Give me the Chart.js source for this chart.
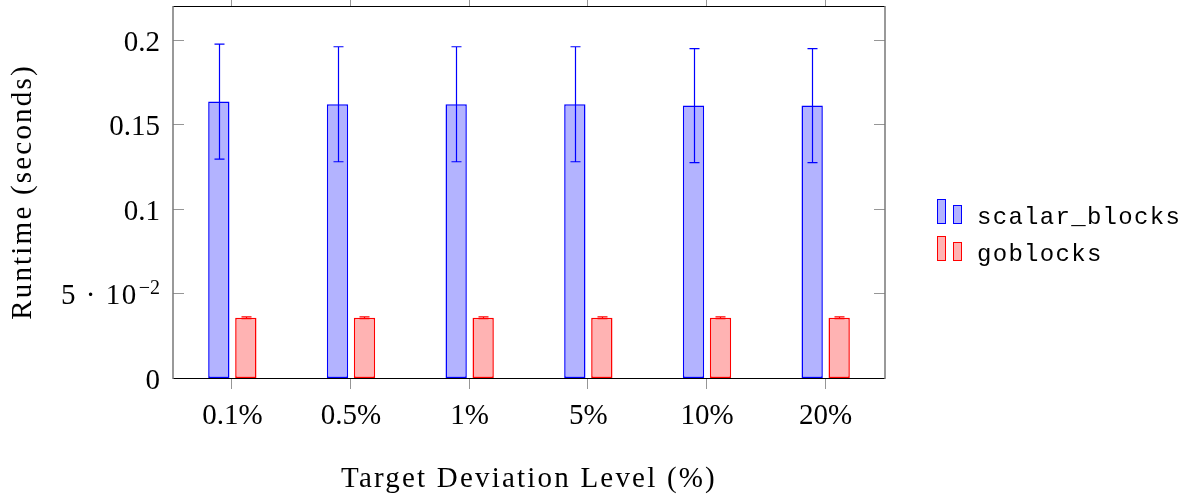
<!DOCTYPE html>
<html>
<head>
<meta charset="utf-8">
<title>Runtime by target deviation level</title>
<script src="https://cdn.jsdelivr.net/npm/chart.js@4/dist/chart.umd.min.js"></script>
<style>
  html, body { margin: 0; padding: 0; background: #ffffff; }
  canvas { display: block; }
</style>
</head>
<body>
<canvas id="chart" width="1191" height="503"></canvas>
<script>
// Mean runtime (seconds) per target deviation level, with ± error
const categories = ['0.1%', '0.5%', '1%', '5%', '10%', '20%'];
const scalarBlocks = [0.1635, 0.1619, 0.1619, 0.1619, 0.1611, 0.1611];
const scalarBlocksErr = [0.034, 0.034, 0.034, 0.034, 0.0337, 0.0337];
const goblocks = [0.0356, 0.0356, 0.0356, 0.0356, 0.0356, 0.0356];
const goblocksErr = [0.0005, 0.0005, 0.0005, 0.0005, 0.0005, 0.0005];
const seriesNames = ['scalar_blocks', 'goblocks'];
const yTickValues = [0, 0.05, 0.1, 0.15, 0.2];
// '^' marks the start of a superscript
const yTickLabels = ['0', '5 \u00b7 10^\u22122', '0.1', '0.15', '0.2'];

const SERIF = '"Liberation Serif", "DejaVu Serif", serif';
const MONO = '"Liberation Mono", "DejaVu Sans Mono", monospace';
const FONT_SIZE = 29;
const TITLE_SPACING = '2.2px';

const BLUE = 'rgb(0,0,255)';
const BLUE_FILL = 'rgb(179,179,255)';
const RED = 'rgb(255,0,0)';
const RED_FILL = 'rgb(255,179,179)';
const AXIS_GRAY = 'rgb(120,120,120)';
const TICK_GRAY = 'rgb(150,150,150)';
const TICK_LEN = 11;

const errors = [scalarBlocksErr, goblocksErr];

// Slightly looser tracking for the axis titles
const titleSpacingPlugin = {
  id: 'titleSpacing',
  beforeDraw(chart) {
    Object.values(chart.scales).forEach(scale => {
      if (scale._spacedTitle) return;
      const orig = scale.drawTitle;
      scale.drawTitle = function () {
        const ctx = this.ctx;
        ctx.save();
        ctx.letterSpacing = TITLE_SPACING;
        orig.call(this);
        ctx.restore();
      };
      scale._spacedTitle = true;
    });
  }
};

// Box frame, inward y ticks on both sides, outward x ticks top and bottom
const framePlugin = {
  id: 'frame',
  beforeDatasetsDraw(chart) {
    const { ctx, chartArea: a, scales: { x, y } } = chart;
    ctx.save();
    ctx.lineWidth = 1;
    ctx.strokeStyle = TICK_GRAY;
    for (const v of yTickValues) {
      const py = Math.round(y.getPixelForValue(v)) + 0.5;
      ctx.beginPath();
      ctx.moveTo(a.left, py); ctx.lineTo(a.left + TICK_LEN, py);
      ctx.moveTo(a.right, py); ctx.lineTo(a.right - TICK_LEN, py);
      ctx.stroke();
    }
    for (let i = 0; i < categories.length; i++) {
      const px = Math.round(x.getPixelForTick(i)) - 0.5;
      ctx.beginPath();
      ctx.moveTo(px, a.bottom); ctx.lineTo(px, a.bottom + TICK_LEN);
      ctx.moveTo(px, a.top); ctx.lineTo(px, a.top - TICK_LEN);
      ctx.stroke();
    }
    ctx.strokeStyle = '#000';
    ctx.lineWidth = 1;
    ctx.beginPath();
    ctx.moveTo(a.left, a.top + 0.5); ctx.lineTo(a.right, a.top + 0.5);
    ctx.moveTo(a.left, a.bottom + 0.5); ctx.lineTo(a.right, a.bottom + 0.5);
    ctx.stroke();
    ctx.strokeStyle = AXIS_GRAY;
    ctx.lineWidth = 1.5;
    ctx.beginPath();
    ctx.moveTo(a.left, a.top); ctx.lineTo(a.left, a.bottom + 1);
    ctx.moveTo(a.right, a.top); ctx.lineTo(a.right, a.bottom + 1);
    ctx.stroke();

    // y tick labels, right aligned, with optional superscript part
    ctx.fillStyle = '#000';
    ctx.textBaseline = 'alphabetic';
    yTickValues.forEach((v, i) => {
      const py = y.getPixelForValue(v) + 10.7;
      const [main, sup] = yTickLabels[i].split('^');
      let right = a.left - 13;
      if (sup) {
        ctx.font = `${Math.round(FONT_SIZE * 0.7)}px ${SERIF}`;
        const w = ctx.measureText(sup).width;
        ctx.textAlign = 'left';
        ctx.fillText(sup, right - w, py - 10);
        right -= w + 1;
        ctx.letterSpacing = '1.5px';
      }
      ctx.font = `${FONT_SIZE}px ${SERIF}`;
      ctx.textAlign = 'right';
      ctx.fillText(main, right, py);
      ctx.letterSpacing = '0px';
    });
    ctx.restore();
  }
};

// Symmetric error bars with caps on every bar
const errorBarPlugin = {
  id: 'errorBars',
  afterDatasetsDraw(chart) {
    const { ctx, scales: { y } } = chart;
    ctx.save();
    ctx.lineWidth = 1.2;
    chart.data.datasets.forEach((ds, di) => {
      const meta = chart.getDatasetMeta(di);
      ctx.strokeStyle = ds.borderColor;
      meta.data.forEach((bar, i) => {
        const v = ds.data[i], e = errors[di][i];
        const top = y.getPixelForValue(v + e);
        const bot = y.getPixelForValue(v - e);
        const cx = Math.round(bar.x) + 0.5;
        ctx.beginPath();
        ctx.moveTo(cx, top); ctx.lineTo(cx, bot);
        ctx.moveTo(cx - 5, top); ctx.lineTo(cx + 5, top);
        ctx.moveTo(cx - 5, bot); ctx.lineTo(cx + 5, bot);
        ctx.stroke();
      });
    });
    ctx.restore();
  }
};

// Legend with a two-bar swatch per series
const legendPlugin = {
  id: 'barLegend',
  afterDraw(chart) {
    const { ctx } = chart;
    ctx.save();
    const rows = [
      { base: 224, fill: BLUE_FILL, stroke: BLUE },
      { base: 261, fill: RED_FILL, stroke: RED }
    ];
    rows.forEach((r, i) => {
      ctx.fillStyle = r.fill;
      ctx.strokeStyle = r.stroke;
      ctx.lineWidth = 1;
      ctx.fillRect(937, r.base - 25, 8, 24);
      ctx.strokeRect(937.5, r.base - 24.5, 8, 24);
      ctx.fillRect(953, r.base - 19, 8, 18);
      ctx.strokeRect(953.5, r.base - 18.5, 8, 18);
      ctx.fillStyle = '#000';
      ctx.font = `24px ${MONO}`;
      ctx.letterSpacing = '1.3px';
      ctx.textAlign = 'left';
      ctx.textBaseline = 'alphabetic';
      ctx.fillText(seriesNames[i], 977, r.base);
    });
    ctx.restore();
  }
};

new Chart(document.getElementById('chart'), {
  type: 'bar',
  data: {
    labels: categories,
    datasets: [
      {
        label: seriesNames[0], data: scalarBlocks,
        backgroundColor: BLUE_FILL, borderColor: BLUE, borderWidth: 1.5, borderSkipped: false,
        categoryPercentage: 0.455, barPercentage: 0.79
      },
      {
        label: seriesNames[1], data: goblocks,
        backgroundColor: RED_FILL, borderColor: RED, borderWidth: 1.5, borderSkipped: false,
        categoryPercentage: 0.455, barPercentage: 0.79
      }
    ]
  },
  options: {
    responsive: false,
    animation: false,
    devicePixelRatio: 1,
    layout: { padding: { left: 0, right: 306, top: 6, bottom: 0 } },
    plugins: { legend: { display: false }, tooltip: { enabled: false } },
    scales: {
      x: {
        type: 'category',
        offset: true,
        grid: { display: false, drawTicks: false },
        border: { display: false },
        ticks: { color: '#000', font: { family: SERIF, size: FONT_SIZE }, padding: 21, maxRotation: 0 },
        title: {
          display: true, text: 'Target Deviation Level (%)', color: '#000',
          font: { family: SERIF, size: FONT_SIZE }, padding: { top: 0, bottom: 6 }
        },
        afterFit(scale) { scale.height = 125; }
      },
      y: {
        min: 0, max: 0.22,
        grid: { display: false, drawTicks: false },
        border: { display: false },
        ticks: { display: false },
        afterBuildTicks(scale) { scale.ticks = yTickValues.map(v => ({ value: v })); },
        title: {
          display: true, text: 'Runtime (seconds)', color: '#000',
          font: { family: SERIF, size: FONT_SIZE }, padding: { top: 6, bottom: 0 }
        },
        afterFit(scale) { scale.width = 173; }
      }
    }
  },
  plugins: [titleSpacingPlugin, framePlugin, errorBarPlugin, legendPlugin]
});
</script>
</body>
</html>
